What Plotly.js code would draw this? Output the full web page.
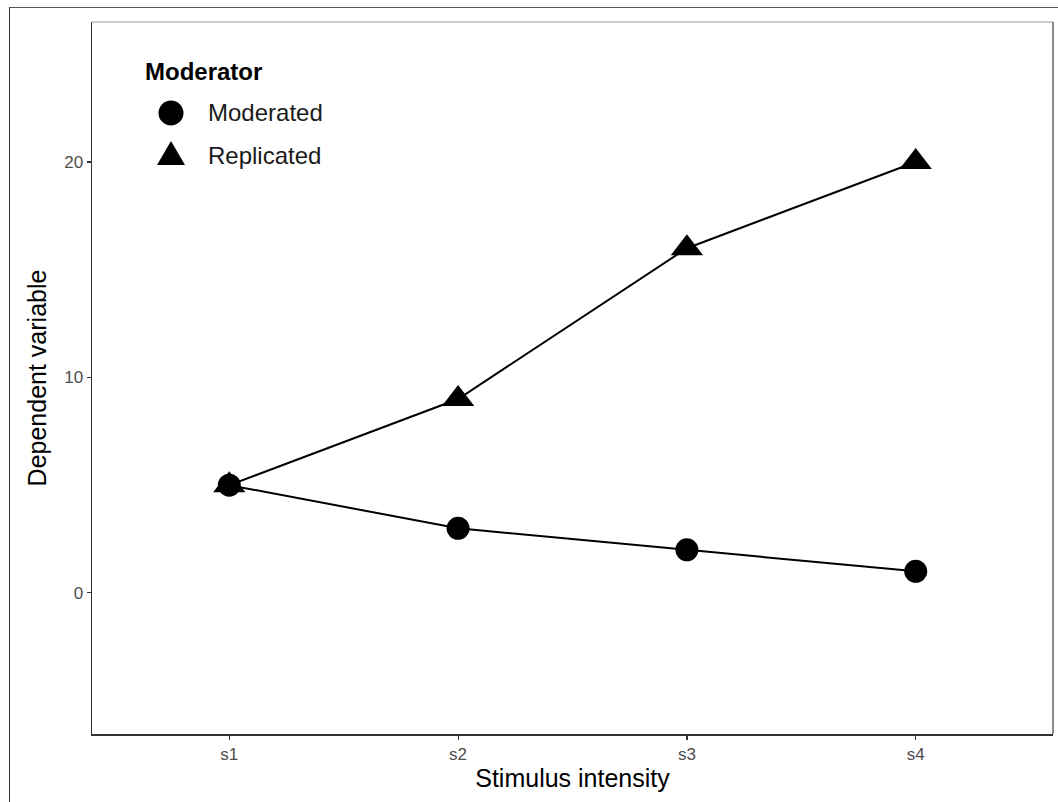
<!DOCTYPE html>
<html><head><meta charset="utf-8">
<script src="https://cdn.plot.ly/plotly-3.0.1.min.js"></script>
<style>
html,body{margin:0;padding:0;background:#fff;}
#wrap{position:relative;width:1058px;height:802px;}
#plot{width:1058px;height:802px;}
#frame{position:absolute;left:9px;top:7px;width:1060px;height:820px;border-left:1.5px solid #333;border-top:1.5px solid #555;pointer-events:none;}
</style></head>
<body>
<div id="wrap"><div id="plot"></div><div id="frame"></div></div>
<script>
const categories = ["s1","s2","s3","s4"];
const moderated = [5, 3, 2, 1];
const replicated = [5, 9, 16, 20];
const seriesNames = ["Moderated","Replicated"];
const legendTitle = "Moderator";
const yTicks = [0, 10, 20];

const font = "Liberation Sans, Arial, sans-serif";
const traces = [
  {x: categories, y: moderated, mode: "lines+markers", type: "scatter", name: seriesNames[0], showlegend: false,
   line: {color: "#000", width: 2}, marker: {symbol: "circle", size: 23, color: "#000"}},
  {x: categories, y: replicated, mode: "lines+markers", type: "scatter", name: seriesNames[1], showlegend: false,
   line: {color: "#000", width: 2}, marker: {symbol: "triangle-up", size: 28, color: "#000"}}
];
const lx = 0.0822;
const layout = {
  width: 1058, height: 802,
  margin: {l: 92, r: 5, t: 22, b: 68},
  paper_bgcolor: "#fff", plot_bgcolor: "#fff",
  font: {family: font, color: "#000"},
  showlegend: false,
  xaxis: {type: "category", range: [-0.6, 3.6], showgrid: false, zeroline: false,
    showline: true, linecolor: "#333", linewidth: 1.5,
    ticks: "outside", ticklen: 4, tickcolor: "#333", tickwidth: 1.2,
    tickfont: {size: 17, color: "#4d4d4d", family: font},
    title: {text: "Stimulus intensity", font: {size: 25, color: "#000", family: font}, standoff: 6}},
  yaxis: {range: [-6.55, 26.5], tickvals: yTicks, showgrid: false, zeroline: false,
    showline: true, linecolor: "#333", linewidth: 1.5,
    ticks: "outside", ticklen: 4, tickcolor: "#333", tickwidth: 1.2,
    tickfont: {size: 17, color: "#4d4d4d", family: font},
    title: {text: "Dependent variable", font: {size: 25, color: "#000", family: font}, standoff: 10}},
  shapes: [
    {type: "line", xref: "paper", yref: "paper", x0: 0, x1: 1, y0: 1, y1: 1, line: {color: "#999", width: 1.2}},
    {type: "line", xref: "paper", yref: "paper", x0: 1, x1: 1, y0: 0, y1: 1, line: {color: "#666", width: 1.5}},
    {type: "circle", xref: "paper", yref: "paper", xsizemode: "pixel", ysizemode: "pixel",
     xanchor: lx, yanchor: 0.8722, x0: -12.5, x1: 12.5, y0: -12.5, y1: 12.5,
     fillcolor: "#000", line: {width: 0}},
    {type: "path", xref: "paper", yref: "paper", xsizemode: "pixel", ysizemode: "pixel",
     xanchor: lx, yanchor: 0.8118, path: "M-14,-9 L14,-9 L0,15 Z",
     fillcolor: "#000", line: {width: 0}}
  ],
  annotations: [
    {xref: "paper", yref: "paper", x: 0.0531, y: 0.9298, xanchor: "left", yanchor: "middle", showarrow: false,
     text: "<b>" + legendTitle + "</b>", font: {size: 24, family: font, color: "#000"}},
    {xref: "paper", yref: "paper", x: 0.1186, y: 0.8722, xanchor: "left", yanchor: "middle", showarrow: false,
     text: seriesNames[0], font: {size: 24, family: font, color: "#1a1a1a"}},
    {xref: "paper", yref: "paper", x: 0.1186, y: 0.8118, xanchor: "left", yanchor: "middle", showarrow: false,
     text: seriesNames[1], font: {size: 24, family: font, color: "#1a1a1a"}}
  ]
};
Plotly.newPlot("plot", traces, layout, {displayModeBar: false, staticPlot: true});
</script>
</body></html>
